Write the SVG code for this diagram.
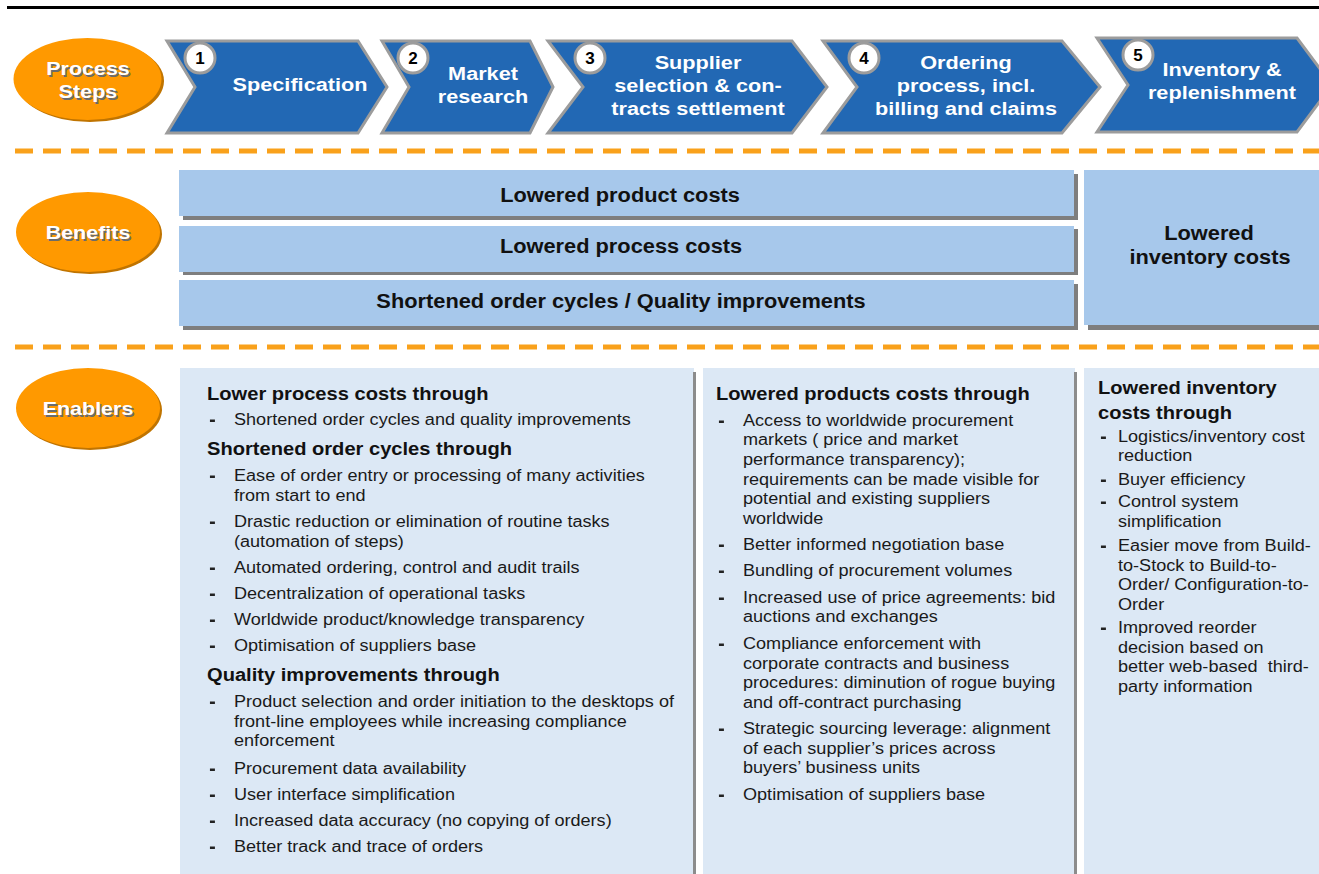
<svg xmlns="http://www.w3.org/2000/svg" width="1319" height="874" viewBox="0 0 1319 874">
<defs>
<style>
.chev{fill:#2268B4;stroke:#9C9C9C;stroke-width:3;stroke-linejoin:miter}
.num{fill:#fff;stroke:#9C9C9C;stroke-width:3}
.numt{font-family:"Liberation Sans",Arial,sans-serif;font-weight:bold;font-size:17px;fill:#000;text-anchor:middle}
.ct{font-family:"Liberation Sans",Arial,sans-serif;font-weight:bold;font-size:19.2px;fill:#fff;text-anchor:middle}
.et{font-family:"Liberation Sans",Arial,sans-serif;font-weight:bold;font-size:19px;fill:#fff;text-anchor:middle}
.es{font-family:"Liberation Sans",Arial,sans-serif;font-weight:bold;font-size:19px;fill:#6b6b6b;text-anchor:middle}
.ell{fill:#FF9900}
.ells{fill:#C07400}
.bb{fill:#A7C8EB}
.bs{fill:#7E7E7E}
.bt{font-family:"Liberation Sans",Arial,sans-serif;font-weight:bold;font-size:19.3px;fill:#111;text-anchor:middle}
.eb{fill:#DCE8F5}
.h{font-family:"Liberation Sans",Arial,sans-serif;font-weight:bold;font-size:17.8px;fill:#111}
.b{font-family:"Liberation Sans",Arial,sans-serif;font-size:16px;fill:#1a1a1a}
.bu{fill:#222}
.dash{stroke:#F9A11B;stroke-width:5;stroke-dasharray:18 10;fill:none}
</style>
</defs>
<rect x="0" y="0" width="1319" height="874" fill="#fff"/>
<line x1="7" y1="7.5" x2="1319" y2="7.5" stroke="#000" stroke-width="3"/>
<g id="separators">
<line class="dash" x1="15" y1="151" x2="1319" y2="151"/>
<line class="dash" x1="15" y1="347" x2="1319" y2="347"/>
</g>

<g id="label-process-steps">
<ellipse class="ells" cx="90" cy="81" rx="74" ry="41"/>
<ellipse class="ell" cx="87.5" cy="79" rx="74" ry="41"/>
<text class="es" transform="translate(89.5 76.5) scale(1.13 1)">Process</text>
<text class="et" transform="translate(88 75) scale(1.13 1)">Process</text>
<text class="es" transform="translate(89.5 99.5) scale(1.13 1)">Steps</text>
<text class="et" transform="translate(88 98) scale(1.13 1)">Steps</text>
</g>
<g id="label-benefits">
<ellipse class="ells" cx="90" cy="234" rx="72" ry="40"/>
<ellipse class="ell" cx="88" cy="232" rx="72" ry="40"/>
<text class="es" transform="translate(89.5 240.5) scale(1.13 1)">Benefits</text>
<text class="et" transform="translate(88 239) scale(1.13 1)">Benefits</text>
</g>
<g id="label-enablers">
<ellipse class="ells" cx="90" cy="410" rx="72" ry="40"/>
<ellipse class="ell" cx="88" cy="408" rx="72" ry="40"/>
<text class="es" transform="translate(89.5 416.5) scale(1.13 1)">Enablers</text>
<text class="et" transform="translate(88 415) scale(1.13 1)">Enablers</text>
</g>

<g id="step-1">
<path class="chev" d="M167,41 L358,41 L387,87 L358,133 L167,133 L195,87 Z"/>
<circle class="num" cx="200" cy="58" r="15"/>
<text class="numt" x="200" y="64">1</text>
<text class="ct" transform="translate(300 91) scale(1.13 1)">Specification</text>
</g>
<g id="step-2">
<path class="chev" d="M382,41 L530,41 L553,87 L530,133 L382,133 L409,87 Z"/>
<circle class="num" cx="413" cy="58" r="15"/>
<text class="numt" x="413" y="64">2</text>
<text class="ct" transform="translate(483 80) scale(1.13 1)">Market</text>
<text class="ct" transform="translate(483 103) scale(1.13 1)">research</text>
</g>
<g id="step-3">
<path class="chev" d="M548,41 L792,41 L827,87 L792,133 L548,133 L583,87 Z"/>
<circle class="num" cx="590" cy="58" r="15"/>
<text class="numt" x="590" y="64">3</text>
<text class="ct" transform="translate(698 69) scale(1.13 1)">Supplier</text>
<text class="ct" transform="translate(698 92) scale(1.13 1)">selection &amp; con-</text>
<text class="ct" transform="translate(698 115) scale(1.13 1)">tracts settlement</text>
</g>
<g id="step-4">
<path class="chev" d="M823,41 L1062,41 L1100,87 L1062,133 L823,133 L857,87 Z"/>
<circle class="num" cx="864" cy="58" r="15"/>
<text class="numt" x="864" y="64">4</text>
<text class="ct" transform="translate(966 69) scale(1.13 1)">Ordering</text>
<text class="ct" transform="translate(966 92) scale(1.13 1)">process, incl.</text>
<text class="ct" transform="translate(966 115) scale(1.13 1)">billing and claims</text>
</g>
<g id="step-5">
<path class="chev" d="M1097,38 L1297,38 L1332,85 L1297,132 L1097,132 L1128,85 Z"/>
<circle class="num" cx="1138" cy="55" r="15"/>
<text class="numt" x="1138" y="61">5</text>
<text class="ct" transform="translate(1222 76) scale(1.13 1)">Inventory &amp;</text>
<text class="ct" transform="translate(1222 99) scale(1.13 1)">replenishment</text>
</g>

<g id="benefit-product-costs">
<rect class="bs" x="183" y="174" width="895" height="46"/>
<rect class="bb" x="179" y="170" width="895" height="46"/>
<text class="bt" transform="translate(620 202) scale(1.13 1)">Lowered product costs</text>
</g>
<g id="benefit-process-costs">
<rect class="bs" x="183" y="229" width="895" height="46"/>
<rect class="bb" x="179" y="226" width="895" height="46"/>
<text class="bt" transform="translate(621 253) scale(1.13 1)">Lowered process costs</text>
</g>
<g id="benefit-order-cycles">
<rect class="bs" x="183" y="284" width="895" height="46"/>
<rect class="bb" x="179" y="280" width="895" height="46"/>
<text class="bt" transform="translate(621 308) scale(1.13 1)">Shortened order cycles / Quality improvements</text>
</g>
<g id="benefit-inventory-costs">
<rect class="bs" x="1088" y="174" width="240" height="156"/>
<rect class="bb" x="1084" y="170" width="240" height="155"/>
<text class="bt" transform="translate(1209 240) scale(1.13 1)">Lowered</text>
<text class="bt" transform="translate(1210 264) scale(1.13 1)">inventory costs</text>
</g>

<g id="enablers-process">
<rect class="eb" x="180" y="368" width="514" height="506"/>
<rect x="693" y="372" width="3" height="502" fill="#8C8C8C"/>
<g transform="translate(207 0) scale(1.13 1)">
<text class="h" x="0" y="400">Lower process costs through</text>
<rect class="bu" x="2.6" y="419.5" width="4.4" height="2.5"/>
<text class="b" x="23.9" y="425">Shortened order cycles and quality improvements</text>
<text class="h" x="0" y="455">Shortened order cycles through</text>
<rect class="bu" x="2.6" y="475.5" width="4.4" height="2.5"/>
<text class="b" x="23.9" y="481">Ease of order entry or processing of many activities</text>
<text class="b" x="23.9" y="501">from start to end</text>
<rect class="bu" x="2.6" y="521.5" width="4.4" height="2.5"/>
<text class="b" x="23.9" y="527">Drastic reduction or elimination of routine tasks</text>
<text class="b" x="23.9" y="547">(automation of steps)</text>
<rect class="bu" x="2.6" y="567.5" width="4.4" height="2.5"/>
<text class="b" x="23.9" y="573">Automated ordering, control and audit trails</text>
<rect class="bu" x="2.6" y="593.5" width="4.4" height="2.5"/>
<text class="b" x="23.9" y="599">Decentralization of operational tasks</text>
<rect class="bu" x="2.6" y="619.5" width="4.4" height="2.5"/>
<text class="b" x="23.9" y="625">Worldwide product/knowledge transparency</text>
<rect class="bu" x="2.6" y="645.5" width="4.4" height="2.5"/>
<text class="b" x="23.9" y="651">Optimisation of suppliers base</text>
<text class="h" x="0" y="681">Quality improvements through</text>
<rect class="bu" x="2.6" y="701.5" width="4.4" height="2.5"/>
<text class="b" x="23.9" y="707">Product selection and order initiation to the desktops of</text>
<text class="b" x="23.9" y="727">front-line employees while increasing compliance</text>
<text class="b" x="23.9" y="746">enforcement</text>
<rect class="bu" x="2.6" y="768.5" width="4.4" height="2.5"/>
<text class="b" x="23.9" y="774">Procurement data availability</text>
<rect class="bu" x="2.6" y="794.5" width="4.4" height="2.5"/>
<text class="b" x="23.9" y="800">User interface simplification</text>
<rect class="bu" x="2.6" y="820.5" width="4.4" height="2.5"/>
<text class="b" x="23.9" y="826">Increased data accuracy (no copying of orders)</text>
<rect class="bu" x="2.6" y="846.5" width="4.4" height="2.5"/>
<text class="b" x="23.9" y="852">Better track and trace of orders</text>
</g>
</g>

<g id="enablers-products">
<rect class="eb" x="703" y="368" width="372" height="506"/>
<rect x="1074" y="372" width="3" height="502" fill="#8C8C8C"/>
<g transform="translate(716 0) scale(1.13 1)">
<text class="h" x="0" y="400">Lowered products costs through</text>
<rect class="bu" x="2.6" y="420.5" width="4.4" height="2.5"/>
<text class="b" x="23.9" y="426">Access to worldwide procurement</text>
<text class="b" x="23.9" y="445">markets ( price and market</text>
<text class="b" x="23.9" y="465">performance transparency);</text>
<text class="b" x="23.9" y="485">requirements can be made visible for</text>
<text class="b" x="23.9" y="504">potential and existing suppliers</text>
<text class="b" x="23.9" y="524">worldwide</text>
<rect class="bu" x="2.6" y="544.5" width="4.4" height="2.5"/>
<text class="b" x="23.9" y="550">Better informed negotiation base</text>
<rect class="bu" x="2.6" y="570.5" width="4.4" height="2.5"/>
<text class="b" x="23.9" y="576">Bundling of procurement volumes</text>
<rect class="bu" x="2.6" y="597.5" width="4.4" height="2.5"/>
<text class="b" x="23.9" y="603">Increased use of price agreements: bid</text>
<text class="b" x="23.9" y="622">auctions and exchanges</text>
<rect class="bu" x="2.6" y="643.5" width="4.4" height="2.5"/>
<text class="b" x="23.9" y="649">Compliance enforcement with</text>
<text class="b" x="23.9" y="669">corporate contracts and business</text>
<text class="b" x="23.9" y="688">procedures: diminution of rogue buying</text>
<text class="b" x="23.9" y="708">and off-contract purchasing</text>
<rect class="bu" x="2.6" y="728.5" width="4.4" height="2.5"/>
<text class="b" x="23.9" y="734">Strategic sourcing leverage: alignment</text>
<text class="b" x="23.9" y="754">of each supplier’s prices across</text>
<text class="b" x="23.9" y="773">buyers’ business units</text>
<rect class="bu" x="2.6" y="794.5" width="4.4" height="2.5"/>
<text class="b" x="23.9" y="800">Optimisation of suppliers base</text>
</g>
</g>

<g id="enablers-inventory">
<rect class="eb" x="1084" y="368" width="240" height="506"/>
<g transform="translate(1098 0) scale(1.13 1)">
<text class="h" x="0" y="394">Lowered inventory</text>
<text class="h" x="0" y="419">costs through</text>
<rect class="bu" x="2.6" y="436.5" width="4.4" height="2.5"/>
<text class="b" x="17.7" y="442">Logistics/inventory cost</text>
<text class="b" x="17.7" y="461">reduction</text>
<rect class="bu" x="2.6" y="479.5" width="4.4" height="2.5"/>
<text class="b" x="17.7" y="485">Buyer efficiency</text>
<rect class="bu" x="2.6" y="501.5" width="4.4" height="2.5"/>
<text class="b" x="17.7" y="507">Control system</text>
<text class="b" x="17.7" y="527">simplification</text>
<rect class="bu" x="2.6" y="545.5" width="4.4" height="2.5"/>
<text class="b" x="17.7" y="551">Easier move from Build-</text>
<text class="b" x="17.7" y="571">to-Stock to Build-to-</text>
<text class="b" x="17.7" y="590">Order/ Configuration-to-</text>
<text class="b" x="17.7" y="610">Order</text>
<rect class="bu" x="2.6" y="627.5" width="4.4" height="2.5"/>
<text class="b" x="17.7" y="633">Improved reorder</text>
<text class="b" x="17.7" y="653">decision based on</text>
<text class="b" x="17.7" y="672" xml:space="preserve">better web-based  third-</text>
<text class="b" x="17.7" y="692">party information</text>
</g>
</g>
</svg>
